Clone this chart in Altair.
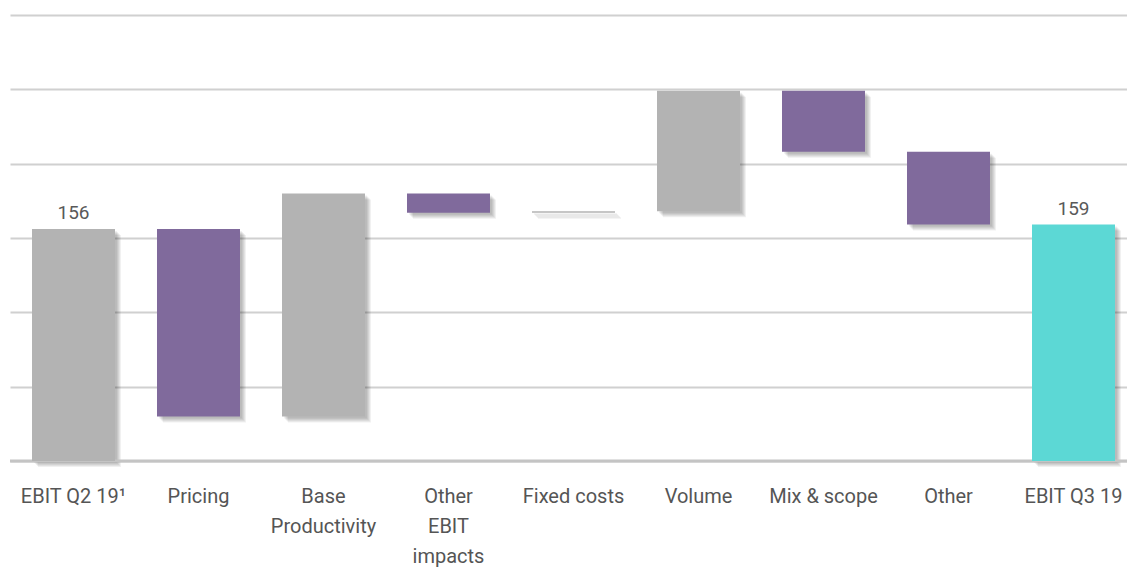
import altair as alt
import pandas as pd

# EBIT bridge, Q2 19 -> Q3 19 ("|" marks a line break in the axis label)
categories = [
    "EBIT Q2 19¹",
    "Pricing",
    "Base|Productivity",
    "Other|EBIT|impacts",
    "Fixed costs",
    "Volume",
    "Mix & scope",
    "Other",
    "EBIT Q3 19",
]
values = [156, -126, 150, -13, 1, 81, -41, -49, 159]
is_total = [True, False, False, False, False, False, False, False, True]

LABEL_FONT = "Roboto"

# build start/end of each floating bar
rows = []
running = 0
for i, (cat, val, tot) in enumerate(zip(categories, values, is_total)):
    if tot:
        start, end = 0, val
        running = val
        tone = "open" if i == 0 else "close"
        label = str(val)
    else:
        start, end = running, running + val
        running = end
        tone = "up" if val >= 0 else "down"
        label = ""
    rows.append({"cat": cat, "start": start, "end": end, "tone": tone, "label": label})
df = pd.DataFrame(rows)

x_scale = alt.Scale(domain=categories, paddingInner=0.336, paddingOuter=0.136, align=0.647)
y_scale = alt.Scale(domain=[0, 300], nice=False, zero=True)

x_enc = alt.X(
    "cat:N",
    scale=x_scale,
    sort=categories,
    title=None,
    axis=alt.Axis(
        labelExpr="split(datum.value, '|')",
        labelAngle=0,
        labelFont=LABEL_FONT,
        labelFontSize=20,
        labelColor="#555555",
        labelLineHeight=30,
        labelPadding=25,
        ticks=False,
        domain=False,
        grid=False,
        labelOverlap=False,
        labelLimit=0,
    ),
)
y_enc = alt.Y(
    "start:Q",
    scale=y_scale,
    title=None,
    axis=alt.Axis(
        values=[0, 50, 100, 150, 200, 250, 300],
        grid=True,
        gridColor="#d0d0d0",
        gridWidth=2,
        labels=False,
        ticks=False,
        domain=False,
    ),
)

base = alt.Chart(df)

# soft drop shadow below/right of each bar
shadows = [
    base.mark_bar(color="#000000", opacity=0.06, xOffset=k, x2Offset=k, yOffset=k, y2Offset=k).encode(
        x=x_enc, y=y_enc, y2="end:Q"
    )
    for k in (2, 3, 4, 5, 6)
]

baseline = alt.Chart(pd.DataFrame({"v": [0]})).mark_rule(color="#c4c4c4", strokeWidth=3).encode(
    y=alt.Y("v:Q", scale=y_scale)
)

bars = base.mark_bar().encode(
    x=x_enc,
    y=y_enc,
    y2="end:Q",
    color=alt.Color(
        "tone:N",
        scale=alt.Scale(
            domain=["open", "up", "down", "close"],
            range=["#b3b3b3", "#b3b3b3", "#806a9c", "#5cd8d5"],
        ),
        legend=None,
    ),
)

totals = base.mark_text(
    baseline="bottom", dy=-6, font=LABEL_FONT, fontSize=19, color="#595959"
).encode(x=x_enc, y=alt.Y("end:Q", scale=y_scale), text="label:N")

chart = (
    alt.layer(*shadows, baseline, bars, totals)
    .properties(
        width=1117,
        height=446,
        autosize=alt.AutoSizeParams(type="none"),
        padding={"left": 10, "top": 15, "right": 0, "bottom": 106},
        background="white",
    )
    .configure_view(stroke=None)
)

chart.save("out.html", embed_options={"renderer": "svg", "actions": False})
